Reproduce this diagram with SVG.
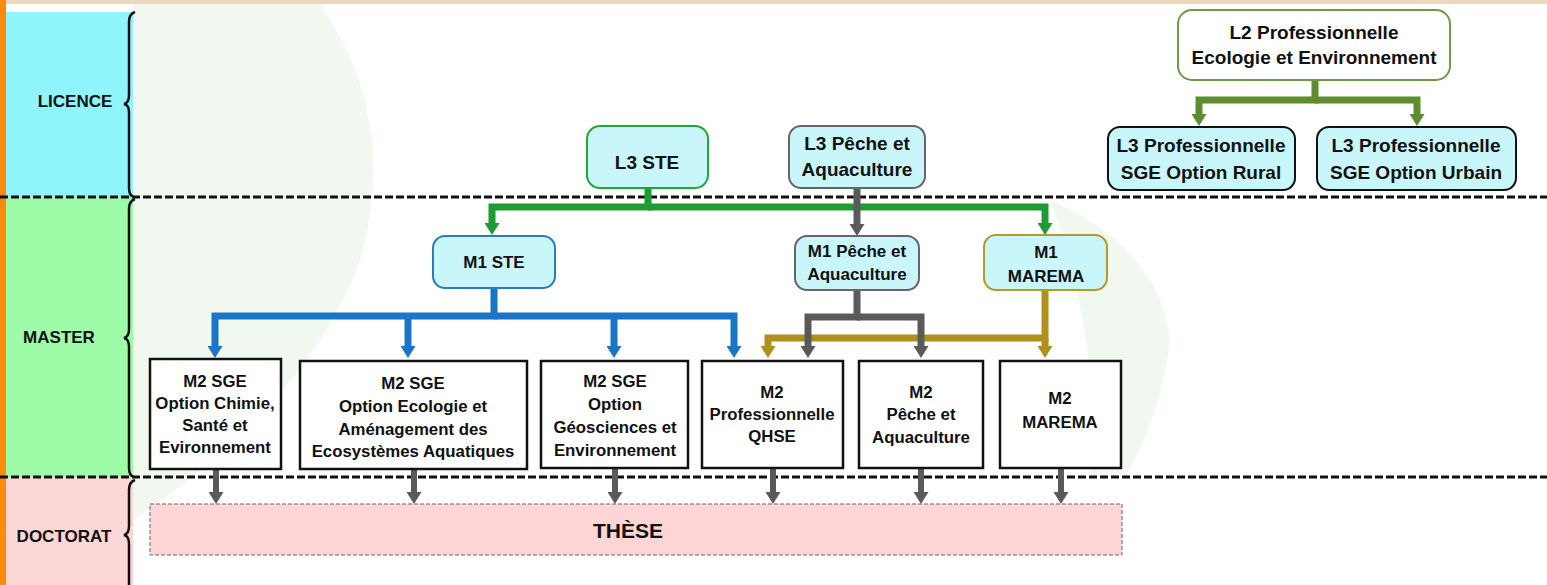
<svg xmlns="http://www.w3.org/2000/svg" width="1547" height="585" viewBox="0 0 1547 585">
<style>
text{font-family:"Liberation Sans",Arial,sans-serif;font-weight:bold;fill:#111;text-anchor:middle}
.lab{font-size:17px}
.l{font-size:19px}
.m1{font-size:17px}
.m2{font-size:16.8px}
.cy{fill:#c9f6fb;stroke-width:2}
.m2b{fill:#fff;stroke:#111;stroke-width:2.5}
.dash{stroke:#111;stroke-width:3;stroke-dasharray:8 3;fill:none}
.brace{fill:none;stroke:#111;stroke-width:2.5}
.c{fill:none;stroke-width:7;stroke-linejoin:miter}
.k{stroke:#5a5a5a;stroke-width:6}
.wm{fill:#f0f8f0}
</style>
<defs>
<marker id="aG" markerUnits="userSpaceOnUse" markerWidth="12" markerHeight="15" refX="4" refY="7.5" orient="auto" viewBox="0 0 12 15"><path d="M0,0 L12,7.5 L0,15 Z" fill="#1f9b34"/></marker>
<marker id="aO" markerUnits="userSpaceOnUse" markerWidth="12" markerHeight="15" refX="4" refY="7.5" orient="auto" viewBox="0 0 12 15"><path d="M0,0 L12,7.5 L0,15 Z" fill="#5e8d2f"/></marker>
<marker id="aB" markerUnits="userSpaceOnUse" markerWidth="12" markerHeight="15" refX="4" refY="7.5" orient="auto" viewBox="0 0 12 15"><path d="M0,0 L12,7.5 L0,15 Z" fill="#1a75c6"/></marker>
<marker id="aY" markerUnits="userSpaceOnUse" markerWidth="12" markerHeight="15" refX="4" refY="7.5" orient="auto" viewBox="0 0 12 15"><path d="M0,0 L12,7.5 L0,15 Z" fill="#b08f1a"/></marker>
<marker id="aK" markerUnits="userSpaceOnUse" markerWidth="12" markerHeight="15" refX="4" refY="7.5" orient="auto" viewBox="0 0 12 15"><path d="M0,0 L12,7.5 L0,15 Z" fill="#5a5a5a"/></marker>
</defs>
<rect width="1547" height="585" fill="#fff"/>
<!-- faint watermark -->
<path class="wm" d="M133,4 L320,4 Q400,120 360,260 Q310,400 133,520 Z"/>
<path class="wm" d="M1050,200 Q1160,250 1170,340 Q1160,420 1125,476 L1090,476 Q1100,330 1050,200 Z"/>
<rect x="6" y="0" width="1541" height="4" fill="#ecd6bd"/>
<rect x="0" y="0" width="6" height="585" fill="#ff8a0c"/>
<!-- bands -->
<g id="band-licence">
<rect x="6" y="12" width="127" height="185" fill="#8ff4fc"/>
<text class="lab" x="75" y="107">LICENCE</text>
<path class="brace" d="M135,12 Q129,14 129,22 V95 Q129,103 124,104 Q129,105 129,112 V188 Q129,196 134,197"/>
</g>
<g id="band-master">
<rect x="6" y="197" width="127" height="280" fill="#9efba7"/>
<text class="lab" x="59" y="343">MASTER</text>
<path class="brace" d="M135,199 Q129,201 129,209 V329 Q129,337 124,338 Q129,339 129,347 V468 Q129,476 134,477"/>
</g>
<g id="band-doctorat">
<rect x="6" y="477" width="127" height="108" fill="#fdd6d6"/>
<text class="lab" x="64" y="542">DOCTORAT</text>
<path class="brace" d="M135,480 Q129,482 129,490 V526 Q129,534 124,535 Q129,536 129,544 V585"/>
</g>
<line class="dash" x1="0" y1="197" x2="1547" y2="197"/>
<line class="dash" x1="0" y1="477" x2="1547" y2="477"/>
<!-- connectors -->
<g id="connectors">
<path class="c" stroke="#5e8d2f" d="M1315,80 V100 H1199 V118" marker-end="url(#aO)"/>
<path class="c" stroke="#5e8d2f" d="M1315,100 H1417 V118" marker-end="url(#aO)"/>
<path class="c" stroke="#1f9b34" d="M648,188 V207 H492 V227" marker-end="url(#aG)"/>
<path class="c" stroke="#1f9b34" d="M648,207 H1045 V227" marker-end="url(#aG)"/>
<path class="c" stroke="#5a5a5a" d="M857,188 V228" marker-end="url(#aK)"/>
<path class="c" stroke="#1a75c6" d="M494,288 V316 H215 V350" marker-end="url(#aB)"/>
<path class="c" stroke="#1a75c6" d="M494,316 H734 V350" marker-end="url(#aB)"/>
<path class="c" stroke="#1a75c6" d="M408,316 V350" marker-end="url(#aB)"/>
<path class="c" stroke="#1a75c6" d="M614,316 V350" marker-end="url(#aB)"/>
<path class="c" stroke="#b08f1a" d="M1045,290 V338 H768 V350" marker-end="url(#aY)"/>
<path class="c" stroke="#b08f1a" d="M1045,338 V350" marker-end="url(#aY)"/>
<path class="c" stroke="#5a5a5a" d="M857,290 V317 H808 V350" marker-end="url(#aK)"/>
<path class="c" stroke="#5a5a5a" d="M857,317 H921 V350" marker-end="url(#aK)"/>
<path class="c k" d="M216,469 V496" marker-end="url(#aK)"/>
<path class="c k" d="M414,469 V496" marker-end="url(#aK)"/>
<path class="c k" d="M615,469 V496" marker-end="url(#aK)"/>
<path class="c k" d="M773,469 V496" marker-end="url(#aK)"/>
<path class="c k" d="M921,469 V496" marker-end="url(#aK)"/>
<path class="c k" d="M1061,469 V496" marker-end="url(#aK)"/>
</g>
<!-- licence nodes -->
<g id="l2-pro">
<rect x="1178" y="10" width="272" height="70" rx="14" fill="#fff" stroke="#6f9b45" stroke-width="2"/>
<text class="l" x="1314" y="39">L2 Professionnelle</text>
<text class="l" x="1314" y="64">Ecologie et Environnement</text>
</g>
<g id="l3-rural">
<rect class="cy" x="1108" y="127" width="187" height="63" rx="12" stroke="#111"/>
<text class="l" x="1201" y="152">L3 Professionnelle</text>
<text class="l" x="1201" y="179">SGE Option Rural</text>
</g>
<g id="l3-urbain">
<rect class="cy" x="1317" y="127" width="199" height="63" rx="12" stroke="#111"/>
<text class="l" x="1416" y="152">L3 Professionnelle</text>
<text class="l" x="1416" y="179">SGE Option Urbain</text>
</g>
<g id="l3-ste">
<rect class="cy" x="587" y="126" width="121" height="62" rx="13" stroke="#22a83a"/>
<text class="l" x="647" y="169">L3 STE</text>
</g>
<g id="l3-peche">
<rect class="cy" x="789" y="126" width="136" height="62" rx="12" stroke="#666"/>
<text class="l" x="857" y="150">L3 Pêche et</text>
<text class="l" x="857" y="176">Aquaculture</text>
</g>
<!-- M1 -->
<g id="m1-ste">
<rect class="cy" x="433" y="236" width="122" height="52" rx="12" stroke="#2b7bc0"/>
<text class="m1" x="494" y="268">M1 STE</text>
</g>
<g id="m1-peche">
<rect class="cy" x="795" y="236" width="124" height="54" rx="12" stroke="#666"/>
<text class="m1" x="857" y="257">M1 Pêche et</text>
<text class="m1" x="857" y="280">Aquaculture</text>
</g>
<g id="m1-marema">
<rect class="cy" x="984" y="235" width="123" height="55" rx="12" stroke="#b8962a"/>
<text class="m1" x="1046" y="258">M1</text>
<text class="m1" x="1046" y="282">MAREMA</text>
</g>
<!-- M2 -->
<g id="m2-chimie">
<rect class="m2b" x="150" y="359" width="131" height="110"/>
<text class="m2" x="215" y="387">M2 SGE</text>
<text class="m2" x="215" y="409">Option Chimie,</text>
<text class="m2" x="215" y="431">Santé et</text>
<text class="m2" x="215" y="453">Evironnement</text>
</g>
<g id="m2-ecologie">
<rect class="m2b" x="300" y="361" width="227" height="108"/>
<text class="m2" x="413" y="389">M2 SGE</text>
<text class="m2" x="413" y="412">Option Ecologie et</text>
<text class="m2" x="413" y="435">Aménagement des</text>
<text class="m2" x="413" y="457">Ecosystèmes Aquatiques</text>
</g>
<g id="m2-geo">
<rect class="m2b" x="541" y="361" width="147" height="107"/>
<text class="m2" x="615" y="387">M2 SGE</text>
<text class="m2" x="615" y="410">Option</text>
<text class="m2" x="615" y="433">Géosciences et</text>
<text class="m2" x="615" y="456">Environnement</text>
</g>
<g id="m2-qhse">
<rect class="m2b" x="702" y="361" width="141" height="107"/>
<text class="m2" x="772" y="398">M2</text>
<text class="m2" x="772" y="420">Professionnelle</text>
<text class="m2" x="772" y="442">QHSE</text>
</g>
<g id="m2-peche">
<rect class="m2b" x="859" y="361" width="124" height="107"/>
<text class="m2" x="921" y="398">M2</text>
<text class="m2" x="921" y="420">Pêche et</text>
<text class="m2" x="921" y="443">Aquaculture</text>
</g>
<g id="m2-marema">
<rect class="m2b" x="1000" y="361" width="121" height="107"/>
<text class="m2" x="1060" y="404">M2</text>
<text class="m2" x="1060" y="428">MAREMA</text>
</g>
<!-- doctorat -->
<g id="these">
<rect x="150" y="504" width="972" height="51" fill="#fdd5d5" stroke="#666" stroke-width="1" stroke-dasharray="4 2"/>
<text x="628" y="538" font-size="21">THÈSE</text>
</g>
</svg>
